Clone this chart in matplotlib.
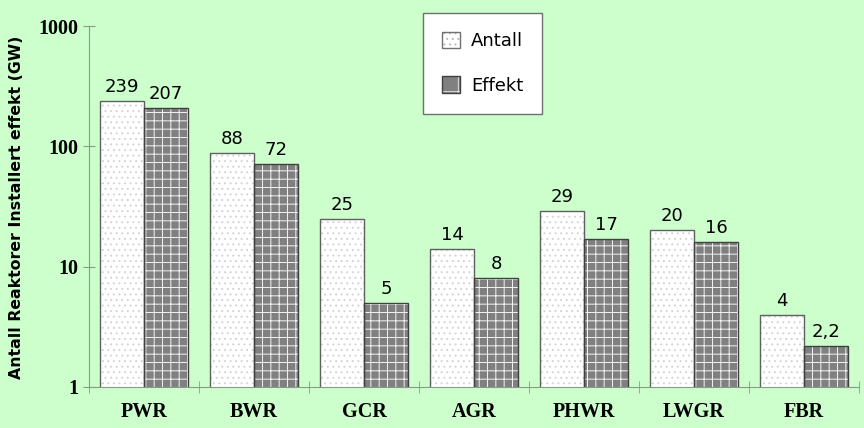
import matplotlib
matplotlib.use("Agg")
import matplotlib.pyplot as plt
import matplotlib.patches as mpatches
from matplotlib.legend_handler import HandlerTuple
import numpy as np

# ── Data ──────────────────────────────────────────────────────────────────────
categories = ["PWR", "BWR", "GCR", "AGR", "PHWR", "LWGR", "FBR"]
antall = [239, 88, 25, 14, 29, 20, 4]
effekt = [207, 72, 5, 8, 17, 16, 2.2]
antall_labels = ["239", "88", "25", "14", "29", "20", "4"]
effekt_labels = ["207", "72", "5", "8", "17", "16", "2,2"]

# ── Style ─────────────────────────────────────────────────────────────────────
BG = "#ccffcc"
AXIS = "#8a9a8a"
GRAYBAR = "#808080"
plt.rcParams["hatch.linewidth"] = 0.7

fig = plt.figure(figsize=(8.64, 4.28), dpi=100)
fig.patch.set_facecolor(BG)
ax = fig.add_axes([89 / 864, 1 - 387 / 428, (859 - 89) / 864, (387 - 26) / 428])
ax.set_facecolor(BG)
ax.set_yscale("log")

x = np.arange(len(categories))
w = 0.4

# Antall: white with faint dots
ax.bar(x - w / 2, antall, w, color="white", edgecolor="#d4d4d4",
       hatch="...", linewidth=0, zorder=2)
ax.bar(x - w / 2, antall, w, fill=False, edgecolor="#606060",
       linewidth=1.0, zorder=3)
# Effekt: gray with white grid
ax.bar(x + w / 2, effekt, w, color=GRAYBAR, edgecolor="#f4f4f4",
       hatch="++", linewidth=0, zorder=2)
ax.bar(x + w / 2, effekt, w, fill=False, edgecolor="#404040",
       linewidth=1.0, zorder=3)

ax.set_ylim(1, 1000)
ax.set_xlim(-0.5, len(categories) - 0.5)

for xi, v, s in zip(x, antall, antall_labels):
    ax.text(xi - w / 2, v * 1.1, s, ha="center", va="bottom", fontsize=13,
            family="DejaVu Sans", zorder=4)
for xi, v, s in zip(x, effekt, effekt_labels):
    ax.text(xi + w / 2, v * 1.1, s, ha="center", va="bottom", fontsize=13,
            family="DejaVu Sans", zorder=4)

for side in ["top", "right"]:
    ax.spines[side].set_visible(False)
for side in ["left", "bottom"]:
    ax.spines[side].set_color(AXIS)
    ax.spines[side].set_linewidth(0.8)

ax.set_yticks([1, 10, 100, 1000])
ax.set_yticklabels(["1", "10", "100", "1000"], family="Liberation Serif",
                   fontweight="bold", fontsize=14.5)
ax.yaxis.set_minor_locator(matplotlib.ticker.NullLocator())
ax.tick_params(axis="y", direction="inout", length=8, color=AXIS, pad=4)

ax.set_xticks(x)
ax.set_xticklabels(categories, family="Liberation Serif", fontweight="bold",
                   fontsize=14.5)
ax.tick_params(axis="x", which="major", length=0, pad=11)
ax.set_xticks(np.arange(len(categories) + 1) - 0.5, minor=True)
ax.tick_params(axis="x", which="minor", direction="inout", length=8, color=AXIS)

fig.text(17 / 864, 1 - 207 / 428, "Antall Reaktorer Installert effekt (GW)",
         rotation=90, ha="center", va="center", fontsize=11.3,
         fontweight="bold", family="DejaVu Sans")

h_antall = (
    mpatches.Patch(facecolor="white", edgecolor="#b8b8b8", hatch="...",
                   linewidth=0),
    mpatches.Patch(fill=False, edgecolor="#707070", linewidth=1.0),
)
h_effekt = (
    mpatches.Patch(facecolor=GRAYBAR, edgecolor="#e0e0e0", hatch="+",
                   linewidth=0),
    mpatches.Patch(fill=False, edgecolor="#404040", linewidth=1.0),
)
leg = fig.legend(handles=[h_antall, h_effekt], labels=["Antall", "Effekt"],
                 handler_map={tuple: HandlerTuple(ndivide=1, pad=0)},
                 loc="upper left",
                 bbox_to_anchor=(423 / 864, 1 - 13 / 428),
                 frameon=True, fancybox=False, framealpha=1, fontsize=13,
                 handlelength=1.0, handleheight=1.0, labelspacing=1.45,
                 borderpad=1.05, handletextpad=0.6, borderaxespad=0)
leg.get_frame().set_facecolor("white")
leg.get_frame().set_edgecolor("#707070")
leg.get_frame().set_linewidth(1.0)

fig.savefig("out.png", dpi=100, facecolor=BG)
